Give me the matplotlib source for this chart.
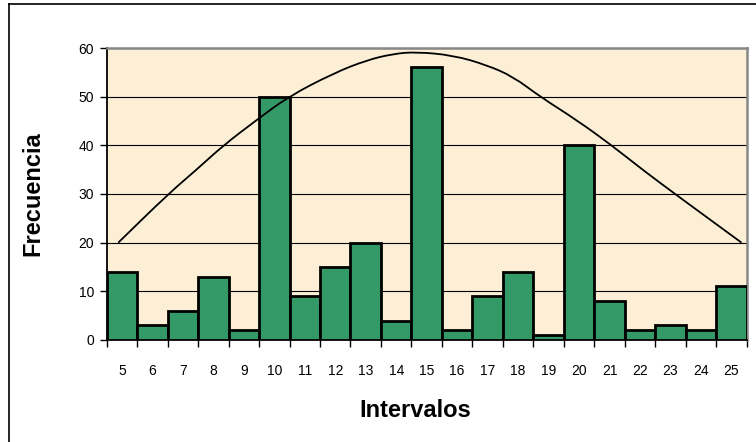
import numpy as np
import matplotlib.pyplot as plt
from matplotlib.lines import Line2D
from matplotlib.path import Path
from matplotlib.patches import PathPatch

plt.rcParams['font.family'] = ['Liberation Sans', 'DejaVu Sans']

# frequency per interval
intervalos = list(range(5, 26))
frecuencia = [14, 3, 6, 13, 2, 50, 9, 15, 20, 4, 56, 2, 9, 14, 1, 40, 8, 2, 3, 2, 11]

curva_x = [4.88, 6.52, 7.45, 8.33, 9.42, 10.46, 11.94, 13.03, 13.9, 14.65,
           15.87, 16.97, 17.84, 18.72, 19.92, 21.07, 22.1, 23.15, 24.24, 25.33]
curva_y = [20, 30, 35, 40, 45.2, 50, 54.8, 57.5, 58.8, 59.2,
           58.5, 56.5, 54.1, 50, 45.2, 40, 34.9, 30, 25, 20]

fig = plt.figure(figsize=(7.56, 4.42), dpi=100)
ax = fig.add_axes([0.1411, 0.2308, 0.8466, 0.6606])
ax.set_facecolor('#FCEFD6')

ax.bar(intervalos, frecuencia, width=1.0, color='#339966',
       edgecolor='black', linewidth=2.0, zorder=3)

# smooth line: quadratic segments between midpoints of the read points
pts = np.column_stack([curva_x, curva_y])
mids = (pts[:-1] + pts[1:]) / 2
verts = [pts[0], mids[0]]
codes = [Path.MOVETO, Path.LINETO]
for i in range(1, len(pts) - 1):
    verts += [pts[i], mids[i]]
    codes += [Path.CURVE3, Path.CURVE3]
verts.append(pts[-1])
codes.append(Path.LINETO)
ax.add_patch(PathPatch(Path(verts, codes), facecolor='none',
                       edgecolor='black', linewidth=1.3, zorder=4))

ax.set_xlim(4.5, 25.5)
ax.set_ylim(0, 60)
ax.set_yticks(range(0, 61, 10))
ax.yaxis.grid(True, color='black', linewidth=0.8, zorder=1)
ax.set_axisbelow(True)

ax.set_xticks(intervalos)
ax.set_xticks(np.arange(4.5, 26, 1), minor=True)
ax.tick_params(axis='x', which='major', length=0, pad=17, labelsize=10)
ax.tick_params(axis='x', which='minor', length=5, width=1, color='black')
ax.tick_params(axis='y', length=5, width=1, pad=4, labelsize=10)

ax.spines['left'].set_color('black')
ax.spines['left'].set_linewidth(1.3)
ax.spines['bottom'].set_color('black')
ax.spines['bottom'].set_linewidth(1.3)
for s in ('top', 'right'):
    ax.spines[s].set_color('#888888')
    ax.spines[s].set_linewidth(1.8)

fig.text(0.549, 0.072, 'Intervalos', ha='center', va='center',
         fontsize=17, fontweight='bold')
fig.text(0.044, 0.561, 'Frecuencia', ha='center', va='center',
         rotation=90, fontsize=17, fontweight='bold')

# outer chart border
fig.add_artist(Line2D([0.0123, 0.0123], [-0.1, 0.992], color='black',
                      linewidth=1.2, transform=fig.transFigure))
fig.add_artist(Line2D([0.0123, 1.1], [0.992, 0.992], color='black',
                      linewidth=1.2, transform=fig.transFigure))

fig.savefig('out.png', dpi=100)
